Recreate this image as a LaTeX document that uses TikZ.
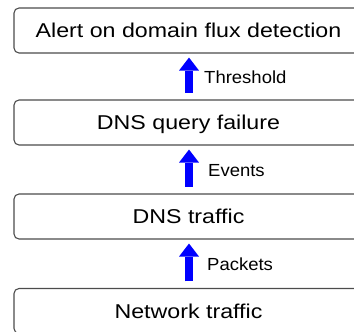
\documentclass[tikz,border=0pt]{standalone}
\usepackage{fontspec}
\setmainfont{Liberation Sans}
\usetikzlibrary{arrows.meta}
\tikzset{
  stage/.style={draw=black!70, line width=1.1pt, rounded corners=5pt,
    minimum width=349pt, minimum height=45pt, inner sep=0pt,
    text height=14.4pt, text depth=0pt,
    font=\fontsize{20}{24}\selectfont},
  flowlbl/.style={anchor=west, inner sep=0pt, text height=12.4pt, text depth=0pt,
    font=\fontsize{17.5}{21}\selectfont},
  bigarrow/.style={draw=blue, line width=8pt,
    -{Triangle[length=13pt,width=20pt,line width=0pt]},
    shorten <=6.5pt, shorten >=4pt}
}
\newcommand{\bxt}[1]{\scalebox{1.16}[1]{#1}}
\newcommand{\lbt}[1]{\scalebox{1.057}[1]{#1}}
\begin{document}
\begin{tikzpicture}[x=1pt,y=-1pt]
\useasboundingbox (0,0) rectangle (354,332);
\clip (0,0) rectangle (354,332);
\node[stage] (b1) at (188.5,30.5) {\bxt{Alert on domain flux detection}};
\node[stage] (b2) at (188.5,122.5) {\bxt{DNS query failure}};
\node[stage] (b3) at (188.5,216.5) {\bxt{DNS traffic}};
\node[stage] (b4) at (188.5,311) {\bxt{Network traffic}};
\coordinate (ax) at (189,0);
\draw[bigarrow] (b2.north -| ax) -- (b1.south -| ax);
\draw[bigarrow] (b3.north -| ax) -- (b2.south -| ax);
\draw[bigarrow] (b4.north -| ax) -- (b3.south -| ax);
\node[flowlbl] (l1) at (204,77.5) {\lbt{Threshold}};
\node[flowlbl] (l2) at (208,170) {\lbt{Events}};
\node[flowlbl] (l3) at (207,264) {\lbt{Packets}};
\end{tikzpicture}
\end{document}
